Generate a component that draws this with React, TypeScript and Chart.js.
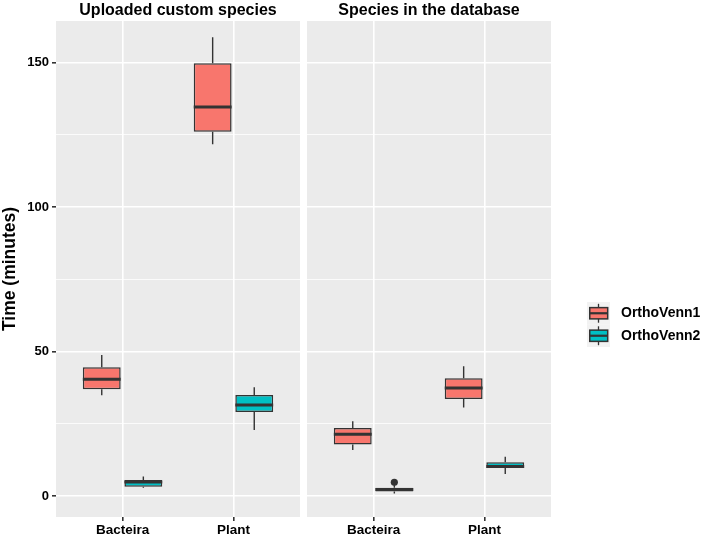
import React, { useEffect, useRef } from 'react';
import { Chart, registerables } from 'chart.js';

Chart.register(...registerables);

// ---------- data ----------
const categories = ['Bacteira', 'Plant'];
const seriesNames = ['OrthoVenn1', 'OrthoVenn2'];
const seriesColors = ['#F8766D', '#00BFC4'];
const panelTitles = ['Uploaded custom species', 'Species in the database'];
const yAxisTitle = 'Time (minutes)';
const yMajorTicks = [0, 50, 100, 150];
const yMinorTicks = [25, 75, 125];
const yRange = [-7.2, 164.3];

// each box: [lower whisker, Q1, median, Q3, upper whisker], one per category
const uploadedOrthoVenn1 = [[34.9, 37.0, 40.4, 44.6, 48.8], [121.7, 126.0, 134.6, 149.7, 158.7]];
const uploadedOrthoVenn2 = [[2.9, 3.3, 4.9, 5.6, 6.8], [22.9, 29.1, 31.5, 35.0, 37.7]];
const databaseOrthoVenn1 = [[16.0, 17.9, 21.4, 23.6, 25.9], [30.7, 33.6, 37.4, 40.8, 44.9]];
const databaseOrthoVenn2 = [[0.9, 1.6, 2.3, 2.9, 3.8], [7.7, 9.7, 10.3, 11.7, 13.6]];
// outliers per category
const uploadedOrthoVenn1Outliers = [[], []];
const uploadedOrthoVenn2Outliers = [[], []];
const databaseOrthoVenn1Outliers = [[], []];
const databaseOrthoVenn2Outliers = [[4.8], []];

// ---------- style ----------
const FONT = '"Liberation Sans", Arial, Helvetica, sans-serif';
const PANEL_BG = '#EBEBEB';
const DARK = '#333333';

const ggBoxPlugin = {
  id: 'ggbox',
  beforeDraw(chart: any) {
    const { ctx, chartArea: a } = chart;
    ctx.save();
    ctx.fillStyle = PANEL_BG;
    ctx.fillRect(a.left, a.top, a.right - a.left, a.bottom - a.top);
    ctx.restore();
  },
  beforeDatasetsDraw(chart: any) {
    const { ctx } = chart;
    const ys = chart.scales.y;
    ctx.save();
    ctx.strokeStyle = DARK;
    ctx.lineWidth = 1.4;
    chart.data.datasets.forEach((ds: any, di: number) => {
      const meta = chart.getDatasetMeta(di);
      meta.data.forEach((bar: any, j: number) => {
        const s = ds.stats[j];
        const x = bar.x;
        ctx.beginPath();
        ctx.moveTo(x, ys.getPixelForValue(s[0]));
        ctx.lineTo(x, ys.getPixelForValue(s[1]));
        ctx.moveTo(x, ys.getPixelForValue(s[3]));
        ctx.lineTo(x, ys.getPixelForValue(s[4]));
        ctx.stroke();
      });
    });
    ctx.restore();
  },
  afterDatasetsDraw(chart: any) {
    const { ctx } = chart;
    const ys = chart.scales.y;
    ctx.save();
    chart.data.datasets.forEach((ds: any, di: number) => {
      const meta = chart.getDatasetMeta(di);
      meta.data.forEach((bar: any, j: number) => {
        const s = ds.stats[j];
        const x = bar.x;
        const w = bar.width;
        const ym = ys.getPixelForValue(s[2]);
        ctx.strokeStyle = DARK;
        ctx.lineWidth = 3;
        ctx.beginPath();
        ctx.moveTo(x - w / 2, ym);
        ctx.lineTo(x + w / 2, ym);
        ctx.stroke();
        (ds.outliers[j] || []).forEach((v: number) => {
          ctx.fillStyle = DARK;
          ctx.beginPath();
          ctx.arc(x, ys.getPixelForValue(v), 3.6, 0, Math.PI * 2);
          ctx.fill();
        });
      });
    });
    ctx.restore();
  },
  afterDraw(chart: any, _args: any, opts: any) {
    const { ctx, chartArea: a } = chart;
    ctx.save();
    ctx.fillStyle = '#000000';
    ctx.font = `bold 16px ${FONT}`;
    ctx.textAlign = 'center';
    ctx.textBaseline = 'middle';
    ctx.fillText(opts.title, (a.left + a.right) / 2, 10.5);
    if (opts.legend) {
      const keyW = 23;
      const keyH = 22.5;
      const keyLeft = a.right + 36;
      const firstTop = 302;
      seriesNames.forEach((name, i) => {
        const top = firstTop + i * keyH;
        ctx.fillStyle = '#F2F2F2';
        ctx.fillRect(keyLeft, top, keyW, keyH);
        const cx = keyLeft + keyW / 2;
        ctx.strokeStyle = DARK;
        ctx.lineWidth = 1.3;
        ctx.beginPath();
        ctx.moveTo(cx, top + keyH * 0.08);
        ctx.lineTo(cx, top + keyH * 0.92);
        ctx.stroke();
        const bx = keyLeft + keyW * 0.12;
        const bw = keyW * 0.78;
        const by = top + keyH * 0.25;
        const bh = keyH * 0.5;
        ctx.fillStyle = seriesColors[i];
        ctx.fillRect(bx, by, bw, bh);
        ctx.lineWidth = 1.5;
        ctx.strokeRect(bx, by, bw, bh);
        ctx.lineWidth = 2.2;
        ctx.beginPath();
        ctx.moveTo(bx, top + keyH / 2);
        ctx.lineTo(bx + bw, top + keyH / 2);
        ctx.stroke();
        ctx.fillStyle = '#000000';
        ctx.font = `bold 14px ${FONT}`;
        ctx.textAlign = 'left';
        ctx.textBaseline = 'middle';
        ctx.fillText(name, keyLeft + 34, top + keyH / 2);
      });
    }
    ctx.restore();
  },
};

function makeConfig(panel: number, seriesStats: number[][][], seriesOutliers: number[][][], left: boolean) {
  const isMajor = (v: number) => yMajorTicks.includes(v);
  return {
    type: 'bar',
    data: {
      datasets: seriesNames.map((name, si) => ({
        label: name,
        data: categories.map((_, ci) => ({ x: ci + 1, y: [seriesStats[si][ci][1], seriesStats[si][ci][3]] })),
        stats: seriesStats[si],
        outliers: seriesOutliers[si],
        backgroundColor: seriesColors[si],
        borderColor: DARK,
        borderWidth: 1.5,
        borderSkipped: false,
        categoryPercentage: 0.75,
        barPercentage: 0.91,
      })),
    },
    options: {
      responsive: false,
      animation: false,
      devicePixelRatio: 1,
      layout: { padding: { top: 21, left: 0, right: left ? 3 : 154, bottom: 0 } },
      plugins: {
        legend: { display: false },
        tooltip: { enabled: false },
        ggbox: { title: panelTitles[panel], legend: !left },
      },
      scales: {
        x: {
          type: 'linear',
          min: 0.4,
          max: 2.6,
          offset: false,
          afterBuildTicks: (s: any) => {
            s.ticks = categories.map((_, i) => ({ value: i + 1 }));
          },
          afterFit: (s: any) => {
            s.height = 23;
          },
          ticks: {
            callback: (v: any) => categories[Number(v) - 1] ?? '',
            color: '#000000',
            font: { family: FONT, size: 13.5, weight: 'bold' },
            padding: 1,
            maxRotation: 0,
            autoSkip: false,
          },
          grid: {
            offset: false,
            color: '#FFFFFF',
            lineWidth: 1.6,
            tickColor: DARK,
            tickLength: 4,
            drawTicks: true,
          },
          border: { display: false },
        },
        y: {
          type: 'linear',
          min: yRange[0],
          max: yRange[1],
          afterBuildTicks: (s: any) => {
            s.ticks = [...yMajorTicks, ...yMinorTicks].sort((a, b) => a - b).map((v) => ({ value: v }));
          },
          afterFit: (s: any) => {
            s.width = left ? 56 : 4;
          },
          ticks: {
            display: left,
            callback: (v: any) => (isMajor(Number(v)) ? String(v) : ''),
            color: '#000000',
            font: { family: FONT, size: 13, weight: 'bold' },
            padding: 3,
          },
          grid: {
            color: '#FFFFFF',
            lineWidth: (c: any) => (c.tick && isMajor(c.tick.value) ? 1.6 : 0.8),
            tickColor: (c: any) => (c.tick && isMajor(c.tick.value) ? DARK : 'rgba(0,0,0,0)'),
            tickLength: 4,
            drawTicks: left,
          },
          border: { display: false },
          title: {
            display: left,
            text: yAxisTitle,
            color: '#000000',
            font: { family: FONT, size: 17.5, weight: 'bold' },
            padding: { top: 0, bottom: 0 },
          },
        },
      },
    },
    plugins: [ggBoxPlugin],
  };
}

export default function App() {
  const leftRef = useRef<HTMLCanvasElement | null>(null);
  const rightRef = useRef<HTMLCanvasElement | null>(null);

  useEffect(() => {
    const c1 = new Chart(
      leftRef.current as HTMLCanvasElement,
      makeConfig(0, [uploadedOrthoVenn1, uploadedOrthoVenn2], [uploadedOrthoVenn1Outliers, uploadedOrthoVenn2Outliers], true) as any
    );
    const c2 = new Chart(
      rightRef.current as HTMLCanvasElement,
      makeConfig(1, [databaseOrthoVenn1, databaseOrthoVenn2], [databaseOrthoVenn1Outliers, databaseOrthoVenn2Outliers], false) as any
    );
    return () => {
      c1.destroy();
      c2.destroy();
    };
  }, []);

  return (
    <div style={{ position: 'absolute', left: 0, top: 0, width: 705, height: 540, background: '#FFFFFF' }}>
      <canvas
        ref={leftRef}
        width={303}
        height={540}
        style={{ position: 'absolute', left: 0, top: 0, width: 303, height: 540 }}
      />
      <canvas
        ref={rightRef}
        width={402}
        height={540}
        style={{ position: 'absolute', left: 303, top: 0, width: 402, height: 540 }}
      />
    </div>
  );
}
